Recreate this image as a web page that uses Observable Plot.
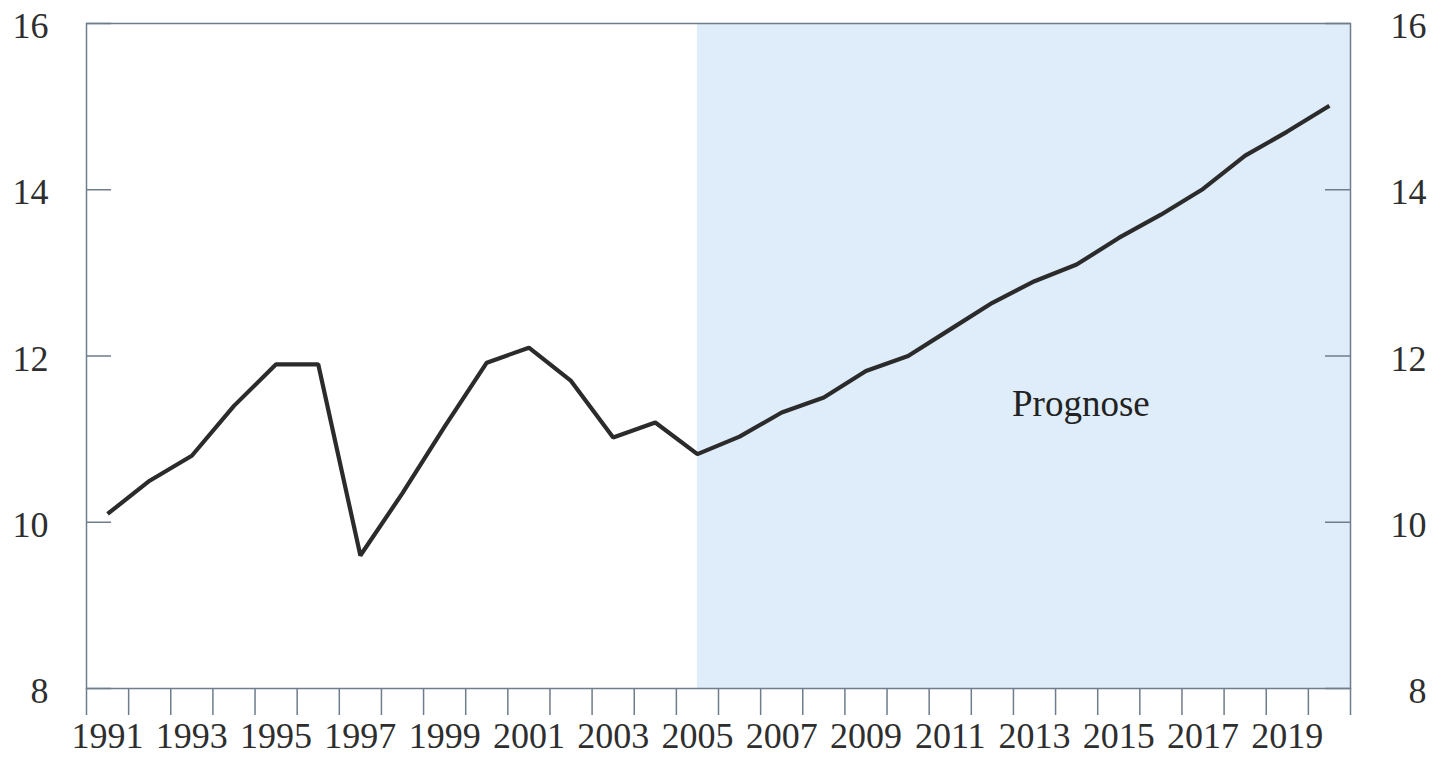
<!DOCTYPE html>
<html>
<head>
<meta charset="utf-8">
<script src="https://cdn.jsdelivr.net/npm/d3@7"></script>
<script src="https://cdn.jsdelivr.net/npm/@observablehq/plot@0.6"></script>
<style>
  html, body { margin: 0; padding: 0; background: #ffffff; }
  #chart svg { display: block; }
</style>
</head>
<body>
<div id="chart"></div>
<script>
// ---- data ----
const years = [1991, 1992, 1993, 1994, 1995, 1996, 1997, 1998, 1999, 2000,
               2001, 2002, 2003, 2004, 2005, 2006, 2007, 2008, 2009, 2010,
               2011, 2012, 2013, 2014, 2015, 2016, 2017, 2018, 2019, 2020];
const values = [10.1, 10.5, 10.8, 11.4, 11.9, 11.9, 9.6, 10.35, 11.15, 11.92,
                12.1, 11.7, 11.02, 11.2, 10.82, 11.03, 11.32, 11.5, 11.82, 12.0,
                12.32, 12.64, 12.9, 13.1, 13.42, 13.7, 14.01, 14.41, 14.7, 15.01];
const yTicks = [8, 10, 12, 14, 16];
const xLabelYears = [1991, 1993, 1995, 1997, 1999, 2001, 2003, 2005, 2007, 2009,
                     2011, 2013, 2015, 2017, 2019];
const forecastStart = 2005;      // first forecast year (shading starts at its point)
const forecastLabel = "Prognose";
const forecastLabelAt = {year: 2014.6, value: 11.42};

const data = years.map((y, i) => ({year: y, value: values[i]}));
const yearEdges = d3.range(years[0], years[years.length - 1] + 2);

const W = 1433, H = 760;
const mL = 86, mR = 83, mT = 23, mB = 72;
const innerW = W - mL - mR;
const frameColor = "#6f7c8c";
const textColor = "#2e2e2e";
const font = "'Liberation Serif', 'Times New Roman', serif";
const fs = 36;

const chart = Plot.plot({
  width: W,
  height: H,
  marginLeft: mL,
  marginRight: mR,
  marginTop: mT,
  marginBottom: mB,
  style: {fontFamily: font, fontSize: fs + "px", color: textColor, background: "#ffffff"},
  x: {type: "linear", domain: [years[0], years[years.length - 1] + 1]},
  y: {domain: [8, 16]},
  marks: [
    // forecast shading
    Plot.rect([{x1: forecastStart + 0.5, x2: years[years.length - 1] + 1}], {
      x1: "x1", x2: "x2", fill: "#deedf9"
    }),
    // inward y ticks (left & right)
    Plot.tickY(yTicks, {y: d => d, stroke: frameColor, strokeWidth: 1.5, insetRight: innerW - 25}),
    Plot.tickY(yTicks, {y: d => d, stroke: frameColor, strokeWidth: 1.5, insetLeft: innerW - 25}),
    // y axis labels
    Plot.axisY(yTicks, {anchor: "left", tickSize: 0, tickPadding: 38, label: null, dy: 3,
      tickFormat: d => String(d), fontSize: fs, fill: textColor}),
    Plot.axisY(yTicks, {anchor: "right", tickSize: 0, tickPadding: 76, textAnchor: "end", label: null, dy: 3,
      tickFormat: d => String(d), fontSize: fs, fill: textColor}),
    // x ticks at year boundaries (outward)
    Plot.axisX(yearEdges, {anchor: "bottom", tickSize: 27, tickFormat: () => "", label: null,
      stroke: frameColor, strokeWidth: 1.5}),
    // x labels centered in year band
    Plot.axisX(xLabelYears.map(y => y + 0.5), {anchor: "bottom", tickSize: 0, tickPadding: 34,
      tickFormat: d => String(Math.floor(d)), label: null, fontSize: fs, fill: textColor}),
    // frame
    Plot.frame({stroke: frameColor, strokeWidth: 1.5}),
    // series line
    Plot.line(data, {x: d => d.year + 0.5, y: "value", stroke: "#2b2b2b", strokeWidth: 4.2,
      strokeLinejoin: "miter", strokeLinecap: "butt"}),
    // annotation
    Plot.text([forecastLabelAt], {x: "year", y: "value", text: () => forecastLabel,
      fontSize: 37, fill: "#222", textAnchor: "middle"})
  ]
});
document.getElementById("chart").appendChild(chart);
</script>
</body>
</html>
